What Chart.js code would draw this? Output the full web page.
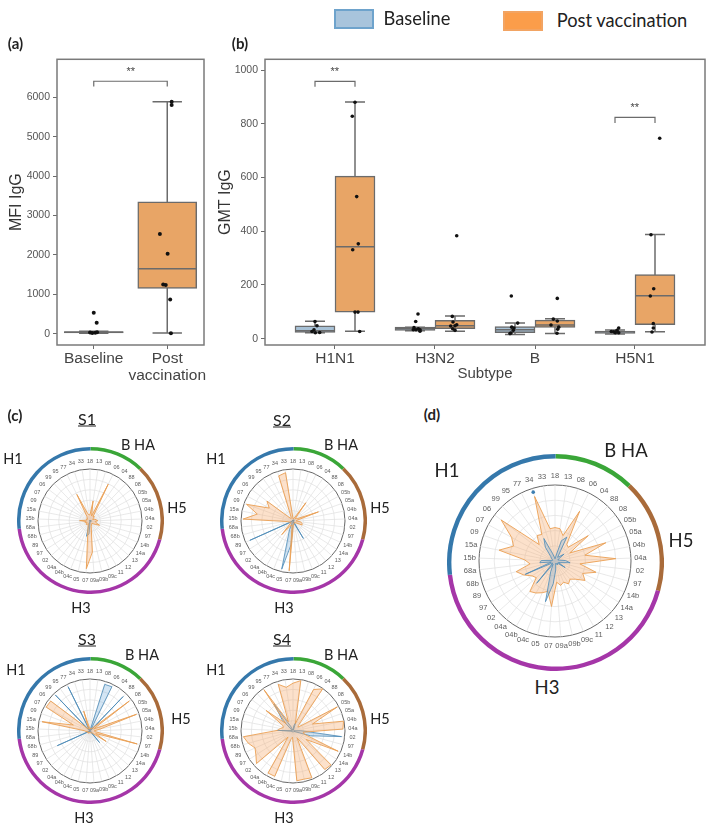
<!DOCTYPE html>
<html>
<head>
<meta charset="utf-8">
<title>IgG response</title>
<script src="https://cdn.jsdelivr.net/npm/chart.js@4"></script>
<style>
  html, body { margin: 0; padding: 0; background: #fff; }
  #page { position: relative; width: 709px; height: 828px; overflow: hidden; }
  #page canvas { position: absolute; }
  .txt { position: absolute; transform: translate(-50%, -50%); white-space: nowrap; font-family: Lato, sans-serif; color: #222; }
  .swatch { position: absolute; box-sizing: border-box; }
</style>
</head>
<body>
<div id="page"></div>
<script>
// panel (a)
const groupsA = ['Baseline', ['Post', 'vaccination']];
const ticksA = [0, 1000, 2000, 3000, 4000, 5000, 6000];
const boxA = [[20, 55], [1150, 3350]];
const medianA = [40, 1650];
const whiskerA = [[10, 60], [20, 5890]];
const dotsBaseA = [[0, 530], [0.04, 280], [-0.05, 30], [-0.02, 15], [0.02, 25], [0.045, 40]];
const dotsPostA = [[0.9, 2530], [1.005, 2030], [0.945, 1250], [0.98, 1240], [1.04, 870], [1.05, 10], [1.06, 5890], [1.06, 5810]];
const bracketA = [[0, 6278], [0, 6413], [1, 6413], [1, 6278]];

// panel (b)
const subtypes = ['H1N1', 'H3N2', 'B', 'H5N1'];
const ticksB = [0, 200, 400, 600, 800, 1000];
const boxBaseB = [[23, 48], [31, 43], [22, 45], [20, 28]];
const boxPostB = [[99, 605], [37, 68], [42, 69], [52, 239]];
const medianBaseB = [30, 38, 33, 25];
const medianPostB = [342, 48, 51, 160];
const whiskerBaseB = [[22, 65], [30, 43], [16, 58], [17, 32]];
const whiskerPostB = [[28, 881], [28, 84], [19, 74], [26, 388]];
const dotsBaseB = [
  [-0.2, 64], [-0.18, 48], [-0.21, 33], [-0.23, 27], [-0.197, 22], [-0.153, 23],
  [0.83, 92], [0.807, 64], [0.79, 41], [0.783, 33], [0.81, 33], [0.833, 37], [0.85, 33], [0.85, 28],
  [1.763, 159], [1.827, 58], [1.79, 40], [1.767, 43], [1.783, 31], [1.76, 21], [1.75, 19],
  [2.837, 40], [2.82, 31], [2.787, 26], [2.763, 27], [2.803, 22], [2.837, 22]
];
const dotsPostB = [
  [0.2, 880], [0.173, 828], [0.217, 529], [0.233, 353], [0.177, 331], [0.2, 99], [0.23, 99], [0.247, 27],
  [1.217, 383], [1.173, 83], [1.18, 62], [1.217, 52], [1.2, 48], [1.157, 47], [1.177, 37], [1.2, 31],
  [2.223, 150], [2.183, 73], [2.223, 66], [2.16, 51], [2.237, 43], [2.227, 35], [2.22, 20],
  [3.247, 746], [3.16, 387], [3.187, 186], [3.153, 159], [3.183, 56], [3.183, 40], [3.17, 25]
];
const bracketsB = [
  [[-0.2, 938], [-0.2, 958], [0.2, 958], [0.2, 938]],
  [[2.8, 803], [2.8, 824], [3.2, 824], [3.2, 803]]
];

// panels (c) and (d)
const strains = ['18', '13', '08', '06', '04', '88', '08', '05b', '05a', '04b', '04a', '02', '97', '14b', '14a', '13', '12', '11', '09c', '09b', '09a', '07', '05', '04c', '04b', '04a', '02', '97', '89', '68b', '68a', '15b', '15a', '09', '07', '06', '99', '95', '77', '34', '33'];
const groupNames = ['B HA', 'H5', 'H3', 'H1'];
const groupCounts = [5, 7, 18, 11];
const groupColors = ['#3aa638', '#a96b3a', '#a536a8', '#3578ab'];

const s1Post = [12, 39, 10, 79, 10, 12, 8, 6, 10, 12, 15, 10, 12, 20, 12, 8, 6, 6, 8, 10, 60, 92, 18, 10, 6, 8, 10, 8, 6, 10, 8, 20, 8, 6, 8, 6, 8, 10, 57, 15, 12];
const s1Base = [1, 1, 1, 2, 1, 1, 1, 1, 1, 1, 3, 1, 1, 2, 1, 1, 1, 1, 1, 1, 2, 25, 30, 3, 1, 1, 1, 1, 1, 1, 1, 1, 1, 1, 1, 1, 1, 1, 1, 2, 1];
const s2Post = [5, 4, 6, 8, 43, 6, 8, 10, 52, 8, 6, 15, 18, 19, 6, 5, 4, 5, 5, 6, 8, 96, 8, 10, 12, 34, 6, 5, 5, 8, 10, 96, 70, 95, 52, 63, 8, 6, 8, 91, 94];
const s2Base = [2, 1, 2, 3, 2, 1, 2, 3, 2, 1, 1, 2, 2, 2, 1, 2, 3, 39, 4, 2, 3, 45, 95, 18, 3, 2, 2, 2, 91, 2, 2, 2, 2, 1, 2, 1, 2, 1, 2, 1, 2];
const s3Post = [4, 5, 6, 5, 7, 10, 95, 8, 95, 20, 8, 10, 94, 12, 37, 6, 5, 4, 4, 3, 3, 4, 3, 4, 5, 4, 5, 4, 6, 5, 8, 10, 94, 34, 96, 95, 6, 5, 8, 40, 6];
const s3Base = [1, 2, 94, 95, 2, 92, 3, 2, 1, 1, 1, 1, 2, 2, 3, 4, 29, 2, 1, 1, 1, 1, 1, 2, 1, 1, 2, 1, 69, 2, 1, 1, 2, 1, 2, 3, 96, 2, 95, 2, 1];
const s4Post = [92, 98, 15, 89, 99, 15, 12, 97, 40, 99, 96, 20, 22, 95, 30, 98, 96, 15, 97, 95, 96, 12, 15, 94, 94, 15, 94, 85, 80, 89, 96, 30, 25, 20, 22, 65, 20, 97, 20, 94, 85];
const s4Base = [2, 10, 17, 2, 2, 2, 2, 2, 2, 2, 15, 94, 35, 2, 2, 2, 2, 2, 2, 2, 2, 2, 2, 2, 2, 2, 2, 2, 2, 2, 2, 31, 2, 2, 2, 2, 30, 63, 10, 2, 2];
const dPost = [44, 43, 35, 73, 27, 25, 55, 22, 71, 40, 80, 33, 56, 40, 47, 36, 31, 35, 30, 33, 28, 60, 41, 45, 49, 52, 33, 36, 45, 53, 33, 40, 75, 58, 65, 89, 30, 41, 39, 89, 43];
const dBase = [3, 6, 28, 35, 6, 8, 15, 5, 4, 6, 14, 20, 8, 5, 16, 4, 5, 6, 3, 4, 12, 30, 55, 15, 5, 38, 4, 6, 43, 5, 20, 18, 4, 3, 4, 6, 8, 22, 33, 10, 5];
const dDot = [null, null, null, null, null, null, null, null, null, null, null, null, null, null, null, null, null, null, null, null, null, null, null, null, null, null, null, null, null, null, null, null, null, null, null, null, null, null, null, 95, null];

const page = document.getElementById('page');
const GREY = '#6b6b6b';
const BOX_BLUE = '#a7c1d6';
const BOX_ORANGE = '#e8a566';
const AXIS_FONT = '"Liberation Sans", Arial, sans-serif';

function addText(str, x, y, size, extra) {
  const el = document.createElement('div');
  el.className = 'txt';
  el.textContent = str;
  el.style.left = x + 'px';
  el.style.top = y + 'px';
  el.style.fontSize = size + 'px';
  Object.assign(el.style, extra || {});
  page.appendChild(el);
}

function addCanvas(left, top, width, height) {
  const c = document.createElement('canvas');
  c.width = width;
  c.height = height;
  c.style.left = left + 'px';
  c.style.top = top + 'px';
  c.style.width = width + 'px';
  c.style.height = height + 'px';
  page.appendChild(c);
  return c;
}

const framePlugin = {
  id: 'frame',
  afterDraw(chart) {
    const a = chart.chartArea;
    chart.ctx.save();
    chart.ctx.strokeStyle = '#7a7a7a';
    chart.ctx.lineWidth = 1.5;
    chart.ctx.strokeRect(a.left, a.top, a.right - a.left, a.bottom - a.top);
    chart.ctx.restore();
  }
};

// strain labels sit centred on a ring outside the radar, chart.js would align them to the edge
const spokeLabelPlugin = {
  id: 'spokeLabels',
  afterDraw(chart, args, opts) {
    const r = chart.scales.r;
    const ctx = chart.ctx;
    ctx.save();
    ctx.font = opts.size + 'px ' + AXIS_FONT;
    ctx.fillStyle = '#5c5c5c';
    ctx.textAlign = 'center';
    ctx.textBaseline = 'middle';
    strains.forEach((s, i) => {
      const p = r.getPointPosition(i, r.drawingArea + opts.gap);
      ctx.fillText(s, p.x, p.y);
    });
    ctx.restore();
  }
};

// joins separate strokes into one line dataset, a null point breaks the line
function segments(list) {
  const out = [];
  list.forEach(seg => {
    seg.forEach(p => out.push({ x: p[0], y: p[1] }));
    out.push({ x: null, y: null });
  });
  return out;
}

function lineSet(list, order, width) {
  return { type: 'scatter', showLine: true, data: segments(list), borderColor: GREY, borderWidth: width || 1.5, pointRadius: 0, spanGaps: false, order };
}

function dotSet(list, radius) {
  return { type: 'scatter', data: list.map(p => ({ x: p[0], y: p[1] })), backgroundColor: '#111', borderWidth: 0, pointRadius: radius, order: 0 };
}

function boxSet(xs, box, color, thickness) {
  return {
    type: 'bar', grouped: false, barThickness: thickness,
    data: box.map((b, i) => ({ x: xs[i], y: b })),
    backgroundColor: color, borderColor: GREY, borderWidth: 1.5, borderSkipped: false, order: 2
  };
}

function boxAxes(labels, xMin, xMax, yMin, yMax, yTicks, yTitle, yWidth, xTitle) {
  return {
    x: {
      type: 'linear', min: xMin, max: xMax, offset: false,
      afterBuildTicks: s => { s.ticks = labels.map((_, i) => ({ value: i })); },
      afterFit: s => { s.height = 38; },
      grid: { offset: false, drawOnChartArea: false, tickLength: 4, color: GREY },
      border: { display: false },
      ticks: { autoSkip: false, maxRotation: 0, padding: 1, color: '#444', font: { family: AXIS_FONT, size: 15.5, lineHeight: 1.1 }, callback: v => labels[v] },
      title: { display: !!xTitle, text: xTitle, color: '#444', font: { family: AXIS_FONT, size: 15 }, padding: { top: 1, bottom: 0 } }
    },
    y: {
      min: yMin, max: yMax,
      afterBuildTicks: s => { s.ticks = yTicks.map(v => ({ value: v })); },
      afterFit: s => { s.width = yWidth; },
      grid: { drawOnChartArea: false, tickLength: 4, color: GREY },
      border: { display: false },
      ticks: { padding: 3, color: '#555', font: { family: AXIS_FONT, size: 10.5 }, callback: v => String(v) },
      title: { display: true, text: yTitle, color: '#333', font: { family: AXIS_FONT, size: 16 }, padding: { top: yWidth > 50 ? 7 : 0, bottom: 0 } }
    }
  };
}

function boxChart(canvas, datasets, scales, padding) {
  return new Chart(canvas, {
    type: 'scatter',
    data: { datasets },
    options: {
      responsive: false, animation: false,
      layout: { padding },
      plugins: { legend: { display: false }, tooltip: { enabled: false } },
      scales
    },
    plugins: [framePlugin]
  });
}

// panel (a)
const xsA = [0, 1];
boxChart(addCanvas(0, 50, 215, 340), [
  dotSet(dotsBaseA.concat(dotsPostA), 2),
  lineSet(medianA.map((m, i) => [[xsA[i] - 0.4, m], [xsA[i] + 0.4, m]]), 1),
  boxSet([0], [boxA[0]], BOX_BLUE, 59),
  boxSet([1], [boxA[1]], BOX_ORANGE, 59),
  lineSet(whiskerA.flatMap((w, i) => [
    [[xsA[i], w[0]], [xsA[i], w[1]]],
    [[xsA[i] - 0.2, w[0]], [xsA[i] + 0.2, w[0]]],
    [[xsA[i] - 0.2, w[1]], [xsA[i] + 0.2, w[1]]]
  ]), 3),
  lineSet([bracketA], 1, 1.2)
], boxAxes(groupsA, -0.5, 1.5, -287, 6970, ticksA, 'MFI IgG', 57), { left: 0, right: 11, top: 9, bottom: 7 });

// panel (b)
const xsBase = subtypes.map((_, i) => i - 0.2);
const xsPost = subtypes.map((_, i) => i + 0.2);
const whiskerSegs = (xs, w) => w.flatMap((v, i) => [
  [[xs[i], v[0]], [xs[i], v[1]]],
  [[xs[i] - 0.1, v[0]], [xs[i] + 0.1, v[0]]],
  [[xs[i] - 0.1, v[1]], [xs[i] + 0.1, v[1]]]
]);
const medianSegs = (xs, m) => m.map((v, i) => [[xs[i] - 0.2, v], [xs[i] + 0.2, v]]);
boxChart(addCanvas(216, 50, 493, 340), [
  dotSet(dotsBaseB.concat(dotsPostB), 1.8),
  lineSet(medianSegs(xsBase, medianBaseB).concat(medianSegs(xsPost, medianPostB)), 1),
  boxSet(xsBase, boxBaseB, BOX_BLUE, 40),
  boxSet(xsPost, boxPostB, BOX_ORANGE, 40),
  lineSet(whiskerSegs(xsBase, whiskerBaseB).concat(whiskerSegs(xsPost, whiskerPostB)), 3),
  lineSet(bracketsB, 1, 1.2)
], boxAxes(subtypes, -0.7, 3.7, -23.5, 1040, ticksB, 'GMT IgG', 49, 'Subtype'), { left: 0, right: 4, top: 9, bottom: 7 });

// coloured ring round each radar
function ring(cx, cy, radius, thickness) {
  const size = Math.round(radius * 2);
  const c = addCanvas(cx - size / 2, cy - size / 2, size, size);
  new Chart(c, {
    type: 'doughnut',
    data: { labels: groupNames, datasets: [{ data: groupCounts, backgroundColor: groupColors, borderWidth: 0 }] },
    options: {
      responsive: false, animation: false,
      cutout: radius - thickness,
      plugins: { legend: { display: false }, tooltip: { enabled: false } }
    }
  });
}

function radar(cx, cy, radius, labelSize, labelGap, base, post, baseOnTop, dot) {
  const space = labelGap + 6;
  const size = (radius + space) * 2;
  const c = addCanvas(cx - size / 2, cy - size / 2, size, size);
  const datasets = [
    { data: base, borderColor: '#4a8ab8', backgroundColor: 'rgba(110,170,220,0.3)', borderWidth: 0.8, pointRadius: 0, fill: true, order: baseOnTop ? 1 : 2 },
    { data: post, borderColor: '#eb9f52', backgroundColor: 'rgba(245,170,105,0.35)', borderWidth: 0.9, pointRadius: 0, fill: true, order: baseOnTop ? 2 : 1 }
  ];
  if (dot) datasets.push({ data: dot, borderWidth: 0, pointRadius: 1.8, pointBackgroundColor: '#3d7fb2', showLine: false, order: 0 });
  new Chart(c, {
    type: 'radar',
    data: { labels: strains, datasets },
    options: {
      responsive: false, animation: false,
      layout: { padding: space },
      plugins: { legend: { display: false }, tooltip: { enabled: false }, spokeLabels: { size: labelSize, gap: labelGap } },
      scales: {
        r: {
          min: 0, max: 100,
          ticks: { display: false, stepSize: 20 },
          grid: { circular: true, lineWidth: ctx => (ctx.index === 5 ? 1 : 0.7), color: ctx => (ctx.index === 5 ? '#666' : '#e0e0e0') },
          angleLines: { color: '#e0e0e0', lineWidth: 0.7 },
          pointLabels: { display: false }
        }
      }
    },
    plugins: [spokeLabelPlugin]
  });
}

const smallPanels = [
  { title: 'S1', tx: 87, ty: 418, rx: 90, ry: 520.5, cx: 89.5, cy: 521, post: s1Post, base: s1Base, h1: [13, 458], bha: [138, 444], h5: [177, 507], h3: [81, 607] },
  { title: 'S2', tx: 282, ty: 419, rx: 293, ry: 520.5, cx: 293, cy: 521, post: s2Post, base: s2Base, h1: [216, 458], bha: [341, 444], h5: [380, 507], h3: [284, 607] },
  { title: 'S3', tx: 87, ty: 638, rx: 90, ry: 730.5, cx: 89.5, cy: 731, post: s3Post, base: s3Base, h1: [16, 669], bha: [142, 654], h5: [181, 718], h3: [84, 817] },
  { title: 'S4', tx: 282, ty: 638, rx: 293, ry: 730.5, cx: 293, cy: 731, post: s4Post, base: s4Base, h1: [216, 669], bha: [341, 654], h5: [380, 718], h3: [284, 817] }
];

smallPanels.forEach(p => {
  ring(p.rx, p.ry, 73.5, 3.5);
  radar(p.cx, p.cy, 52, 5.5, 8, p.base, p.post, false);
  addText(p.title, p.tx, p.ty, 16, { textDecoration: 'underline' });
  addText('H1', p.h1[0], p.h1[1], 14.5);
  addText('B HA', p.bha[0], p.bha[1], 14.5);
  addText('H5', p.h5[0], p.h5[1], 14.5);
  addText('H3', p.h3[0], p.h3[1], 14.5);
});

ring(555.7, 562, 108.6, 4.5);
radar(555, 561.7, 76, 7.5, 9.5, dBase, dPost, true, dDot);
addText('H1', 447, 470, 18.5);
addText('B HA', 626, 450, 18.5);
addText('H5', 681, 540, 18.5);
addText('H3', 547, 687, 18.5);

// panel letters, significance marks, legend
addText('(a)', 15.5, 43, 15, { fontWeight: 'bold' });
addText('(b)', 240, 42.5, 15, { fontWeight: 'bold' });
addText('(c)', 15, 415, 15, { fontWeight: 'bold' });
addText('(d)', 432, 414, 15, { fontWeight: 'bold' });
[[130.7, 71], [334.7, 71], [634.7, 107]].forEach(s => addText('**', s[0], s[1], 11, { fontFamily: AXIS_FONT, color: '#444' }));

[[334, 9, 40, 20, '#a8c4dc', '#6ea3cc'], [503, 11, 40, 20, '#fb9d4a', '#f2a463']].forEach(s => {
  const el = document.createElement('div');
  el.className = 'swatch';
  el.style.cssText = `left:${s[0]}px;top:${s[1]}px;width:${s[2]}px;height:${s[3]}px;background:${s[4]};border:2px solid ${s[5]}`;
  page.appendChild(el);
});
addText('Baseline', 417, 18, 18.3);
addText('Post vaccination', 622, 20, 18.3);
</script>
</body>
</html>
